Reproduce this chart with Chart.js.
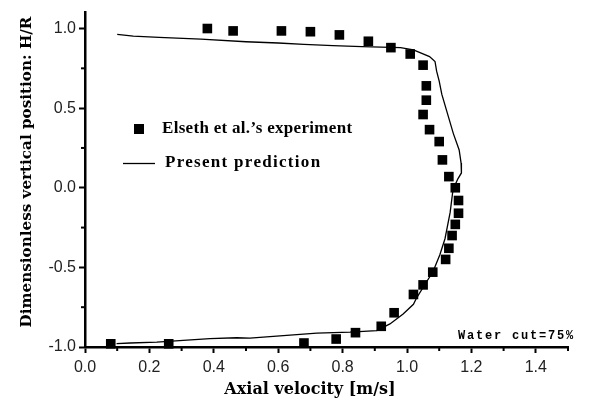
<!DOCTYPE html>
<html>
<head>
<meta charset="utf-8">
<script src="https://cdn.jsdelivr.net/npm/chart.js@4"></script>
<style>
  html, body { margin: 0; padding: 0; background: #fff; }
  #wrap { width: 591px; height: 404px; }
</style>
</head>
<body>
<div id="wrap"><canvas id="canvas" width="591" height="404"></canvas></div>
<script>
// experiment (squares)
const expX = [0.38, 0.46, 0.61, 0.70, 0.79, 0.88, 0.95, 1.01, 1.05, 1.06, 1.06, 1.05, 1.07, 1.10, 1.11,
  1.13, 1.15, 1.16, 1.16, 1.15, 1.14, 1.13, 1.12, 1.08, 1.05, 1.02, 0.96, 0.92, 0.84, 0.78, 0.68, 0.26, 0.08];
const expY = [1.00, 0.985, 0.985, 0.98, 0.96, 0.92, 0.88, 0.84, 0.77, 0.64, 0.55, 0.46, 0.365, 0.29, 0.175,
  0.07, 0.0, -0.08, -0.16, -0.23, -0.30, -0.38, -0.45, -0.53, -0.61, -0.67, -0.785, -0.87, -0.91, -0.95, -0.975, -0.98, -0.98];

// prediction (line)
const predX = [0.10, 0.15, 0.23, 0.36, 0.50, 0.60, 0.68, 0.77, 0.86, 0.98, 1.02, 1.07, 1.087, 1.092, 1.10, 1.108,
  1.123, 1.144, 1.162, 1.168, 1.169, 1.158, 1.143, 1.134, 1.118, 1.102, 1.081, 1.056, 1.030, 1.020, 0.988, 0.947,
  0.906, 0.823, 0.720, 0.616, 0.512, 0.471, 0.388, 0.305, 0.223, 0.140, 0.098];
const predY = [0.963, 0.952, 0.944, 0.934, 0.917, 0.909, 0.901, 0.892, 0.886, 0.880, 0.866, 0.824, 0.793, 0.732, 0.670, 0.588,
  0.484, 0.340, 0.237, 0.155, 0.093, 0.056, -0.011, -0.155, -0.320, -0.421, -0.526, -0.606, -0.691, -0.732, -0.793, -0.855,
  -0.897, -0.907, -0.913, -0.928, -0.944, -0.942, -0.948, -0.959, -0.969, -0.975, -0.979];

const xTicks = [0, 0.2, 0.4, 0.6, 0.8, 1.0, 1.2, 1.4];
const xMinor = [0.1, 0.3, 0.5, 0.7, 0.9, 1.1, 1.3, 1.5];
const yTicks = [-1, -0.5, 0, 0.5, 1];
const yMinor = [-0.75, -0.25, 0.25, 0.75];

const serif = '"DejaVu Serif", "Liberation Serif", serif';
const legendFont = '"Liberation Serif", serif';
const sans = '"Liberation Sans", Arial, sans-serif';

const canvas = document.getElementById('canvas');
const ctx = canvas.getContext('2d');

// minor ticks, axis titles, legend and note
const extras = {
  id: 'extras',
  afterDraw(chart) {
    const c = chart.ctx;
    const xs = chart.scales.x, ys = chart.scales.y;
    c.save();
    c.strokeStyle = '#000';
    c.lineWidth = 2;
    xMinor.forEach(v => {
      const px = xs.getPixelForValue(v);
      c.beginPath(); c.moveTo(px, ys.bottom); c.lineTo(px, ys.bottom + 4); c.stroke();
    });
    yMinor.forEach(v => {
      const py = ys.getPixelForValue(v);
      c.beginPath(); c.moveTo(xs.left, py); c.lineTo(xs.left - 4, py); c.stroke();
    });

    c.fillStyle = '#000';
    c.textBaseline = 'middle';
    c.textAlign = 'center';

    // axis titles
    c.font = 'bold 16px ' + serif;
    c.fillText('Axial velocity [m/s]', 310, 390);
    c.save();
    c.translate(27, 172);
    c.rotate(-Math.PI / 2);
    c.font = 'bold 15.2px ' + serif;
    c.fillText('Dimensionless vertical position: H/R', 0, 0);
    c.restore();

    // legend
    c.fillRect(134, 124, 10, 10);
    c.lineWidth = 1.3;
    c.beginPath(); c.moveTo(123, 163.5); c.lineTo(155, 163.5); c.stroke();
    c.font = 'bold 17px ' + legendFont;
    c.textAlign = 'left';
    c.letterSpacing = '0.3px';
    c.fillText("Elseth et al.\u2019s experiment", 162, 129);
    c.letterSpacing = '1.3px';
    c.fillText('Present prediction', 165, 163);

    // note
    c.font = 'bold 12px "Liberation Mono", monospace';
    c.letterSpacing = '1.8px';
    c.textAlign = 'right';
    c.fillText('Water cut=75%', 575, 336);
    c.restore();
  }
};

new Chart(ctx, {
  type: 'scatter',
  data: {
    datasets: [
      {
        label: "Elseth et al.'s experiment",
        data: expX.map((x, i) => ({ x: x, y: expY[i] })),
        pointStyle: 'rect',
        pointRadius: 6.8,
        pointBorderWidth: 0,
        backgroundColor: '#000',
        borderColor: '#000'
      },
      {
        label: 'Present prediction',
        data: predX.map((x, i) => ({ x: x, y: predY[i] })),
        showLine: true,
        pointRadius: 0,
        borderColor: '#000',
        borderWidth: 1.3,
        tension: 0
      }
    ]
  },
  options: {
    responsive: false,
    animation: false,
    clip: false,
    layout: { padding: { left: 0, right: 23, top: 7, bottom: 0 } },
    plugins: {
      legend: { display: false },
      tooltip: { enabled: false }
    },
    scales: {
      x: {
        type: 'linear',
        min: 0,
        max: 1.5,
        afterBuildTicks: s => { s.ticks = xTicks.map(v => ({ value: v })); },
        afterFit: s => { s.height = 57; },
        border: { color: '#000', width: 2.5 },
        grid: { drawOnChartArea: false, tickLength: 6, tickWidth: 2, tickColor: '#000' },
        ticks: {
          color: '#222',
          padding: 5,
          font: { family: sans, size: 16 },
          callback: v => v.toFixed(1)
        }
      },
      y: {
        type: 'linear',
        min: -1,
        max: 1.1,
        afterBuildTicks: s => { s.ticks = yTicks.map(v => ({ value: v })); },
        afterFit: s => { s.width = 85; },
        border: { color: '#000', width: 2.5 },
        grid: { drawOnChartArea: false, tickLength: 6, tickWidth: 2, tickColor: '#000' },
        ticks: {
          color: '#222',
          padding: 3,
          font: { family: sans, size: 16 },
          callback: v => v.toFixed(1)
        }
      }
    }
  },
  plugins: [extras]
});
</script>
</body>
</html>
